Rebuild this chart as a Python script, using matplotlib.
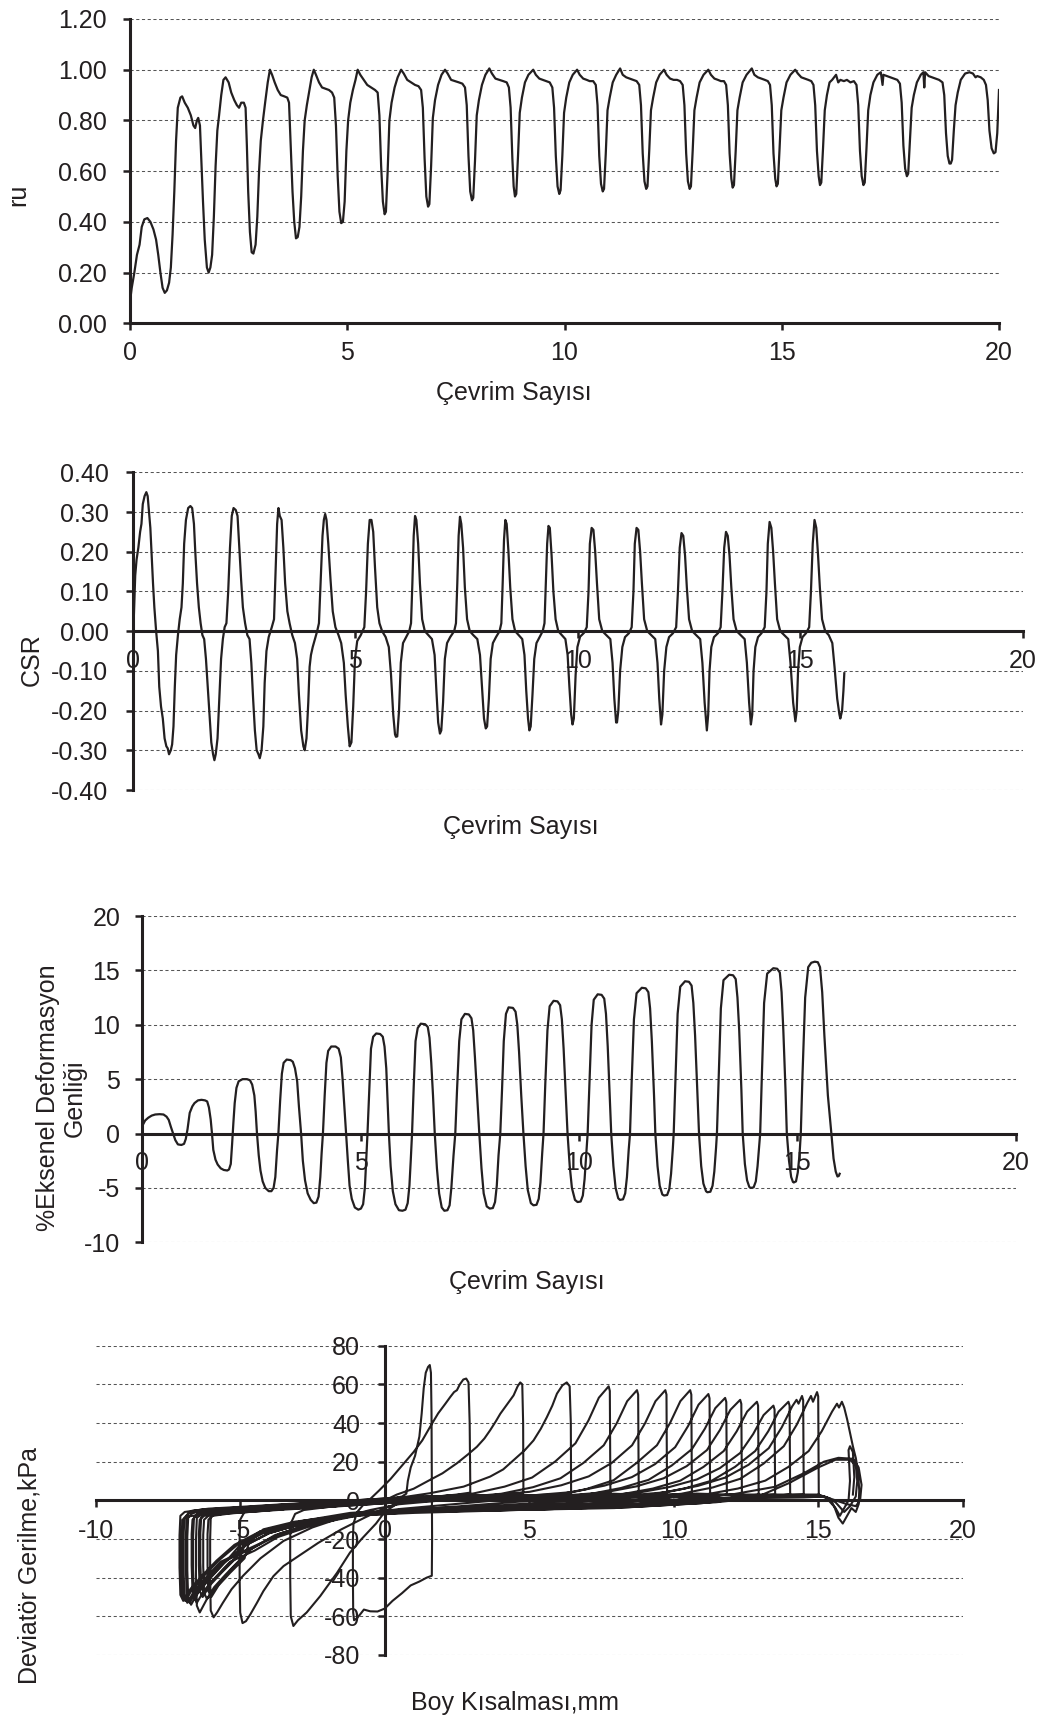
import matplotlib.pyplot as plt

plt.rcParams['font.family'] = ['Liberation Sans', 'DejaVu Sans']

FS = 18
INK = '#231f20'
GRID = '#555555'

# ---- panel 1: ru vs cycle number ----
ru_points = [
    (0.00, 0.085), (0.04, 0.14), (0.10, 0.20), (0.16, 0.27), (0.22, 0.31), (0.27, 0.38), (0.33, 0.41),
    (0.40, 0.415), (0.47, 0.40), (0.54, 0.37), (0.60, 0.33), (0.65, 0.27), (0.70, 0.20), (0.75, 0.14),
    (0.80, 0.12), (0.85, 0.13), (0.90, 0.16), (0.94, 0.22), (0.98, 0.35), (1.02, 0.52), (1.06, 0.72),
    (1.10, 0.85), (1.16, 0.89), (1.20, 0.895), (1.26, 0.87), (1.33, 0.85), (1.40, 0.82), (1.46, 0.78),
    (1.50, 0.77), (1.54, 0.80), (1.57, 0.81), (1.61, 0.78), (1.64, 0.65), (1.68, 0.48), (1.72, 0.33),
    (1.77, 0.22), (1.81, 0.20), (1.85, 0.22), (1.89, 0.27), (1.93, 0.42), (1.97, 0.62), (2.01, 0.76),
    (2.05, 0.82), (2.10, 0.90), (2.15, 0.96), (2.20, 0.97), (2.27, 0.95), (2.33, 0.91), (2.40, 0.88),
    (2.46, 0.86), (2.51, 0.85), (2.56, 0.87), (2.62, 0.87), (2.66, 0.85), (2.69, 0.70), (2.72, 0.52),
    (2.76, 0.36), (2.80, 0.28), (2.84, 0.275), (2.89, 0.31), (2.93, 0.42), (2.97, 0.60), (3.01, 0.72),
    (3.06, 0.80), (3.11, 0.87), (3.17, 0.95), (3.22, 1.00), (3.27, 0.98), (3.33, 0.95), (3.40, 0.92),
    (3.47, 0.90), (3.55, 0.895), (3.62, 0.89), (3.66, 0.87), (3.70, 0.70), (3.74, 0.52), (3.78, 0.40),
    (3.82, 0.335), (3.86, 0.34), (3.90, 0.38), (3.94, 0.50), (3.98, 0.68), (4.02, 0.80), (4.07, 0.86),
    (4.13, 0.92), (4.18, 0.97), (4.23, 1.00), (4.28, 0.98), (4.35, 0.95), (4.42, 0.93), (4.50, 0.925),
    (4.58, 0.92), (4.65, 0.91), (4.70, 0.89), (4.74, 0.78), (4.78, 0.58), (4.82, 0.44), (4.86, 0.395),
    (4.90, 0.40), (4.94, 0.48), (4.98, 0.68), (5.02, 0.80), (5.07, 0.87), (5.13, 0.92), (5.19, 0.96),
    (5.24, 1.00), (5.30, 0.98), (5.38, 0.96), (5.46, 0.94), (5.55, 0.93), (5.64, 0.92), (5.70, 0.91),
    (5.74, 0.82), (5.78, 0.62), (5.82, 0.48), (5.86, 0.43), (5.89, 0.44),
    (5.93, 0.60), (5.97, 0.80), (6.02, 0.87), (6.09, 0.93), (6.16, 0.97), (6.24, 1.00), (6.30, 0.985),
    (6.38, 0.96), (6.47, 0.95), (6.56, 0.94), (6.64, 0.935), (6.70, 0.92), (6.74, 0.85), (6.78, 0.65),
    (6.82, 0.50), (6.86, 0.46), (6.89, 0.47),
    (6.93, 0.62), (6.97, 0.81), (7.02, 0.88), (7.09, 0.94), (7.17, 0.98), (7.25, 1.00), (7.31, 0.985),
    (7.39, 0.96), (7.48, 0.955), (7.57, 0.95), (7.65, 0.945), (7.71, 0.93), (7.75, 0.86), (7.79, 0.66),
    (7.83, 0.52), (7.87, 0.485), (7.90, 0.495),
    (7.94, 0.64), (7.98, 0.82), (8.03, 0.88), (8.10, 0.94), (8.18, 0.98), (8.27, 1.005), (8.33, 0.985),
    (8.41, 0.965), (8.50, 0.96), (8.59, 0.955), (8.67, 0.95), (8.72, 0.93), (8.76, 0.85), (8.80, 0.65),
    (8.83, 0.54), (8.86, 0.50), (8.89, 0.51),
    (8.93, 0.66), (8.97, 0.83), (9.02, 0.89), (9.09, 0.95), (9.17, 0.98), (9.28, 1.00), (9.34, 0.98),
    (9.42, 0.965), (9.50, 0.96), (9.58, 0.955), (9.66, 0.95), (9.72, 0.93), (9.76, 0.85), (9.80, 0.66),
    (9.84, 0.54), (9.88, 0.51), (9.91, 0.525),
    (9.95, 0.66), (9.99, 0.83), (10.04, 0.89), (10.11, 0.95), (10.19, 0.98), (10.29, 1.00), (10.35, 0.98),
    (10.43, 0.965), (10.51, 0.96), (10.58, 0.955), (10.66, 0.955), (10.72, 0.94), (10.76, 0.86),
    (10.80, 0.66), (10.84, 0.55), (10.88, 0.52), (10.91, 0.53),
    (10.95, 0.67), (10.99, 0.84), (11.04, 0.89), (11.11, 0.95), (11.19, 0.98), (11.28, 1.005),
    (11.34, 0.98), (11.42, 0.97), (11.50, 0.965), (11.58, 0.96), (11.66, 0.955), (11.72, 0.94),
    (11.76, 0.86), (11.80, 0.67), (11.84, 0.56), (11.88, 0.53), (11.91, 0.54),
    (11.95, 0.68), (11.99, 0.84), (12.04, 0.89), (12.11, 0.95), (12.19, 0.98), (12.29, 1.00),
    (12.35, 0.98), (12.43, 0.965), (12.51, 0.96), (12.59, 0.96), (12.66, 0.955), (12.72, 0.94),
    (12.76, 0.86), (12.80, 0.67), (12.84, 0.56), (12.88, 0.53), (12.91, 0.54),
    (12.95, 0.68), (12.99, 0.84), (13.04, 0.89), (13.11, 0.95), (13.20, 0.98), (13.31, 1.00),
    (13.37, 0.98), (13.45, 0.965), (13.53, 0.96), (13.60, 0.955), (13.67, 0.955), (13.72, 0.94),
    (13.76, 0.86), (13.80, 0.67), (13.84, 0.57), (13.87, 0.535), (13.90, 0.545),
    (13.94, 0.68), (13.98, 0.84), (14.03, 0.89), (14.10, 0.95), (14.19, 0.98), (14.31, 1.005),
    (14.37, 0.98), (14.45, 0.97), (14.53, 0.965), (14.61, 0.96), (14.68, 0.955), (14.73, 0.94),
    (14.77, 0.86), (14.81, 0.67), (14.85, 0.57), (14.88, 0.54), (14.91, 0.55),
    (14.95, 0.69), (14.99, 0.84), (15.04, 0.89), (15.11, 0.95), (15.20, 0.98), (15.31, 1.00),
    (15.37, 0.985), (15.45, 0.97), (15.53, 0.965), (15.61, 0.96), (15.68, 0.955), (15.73, 0.94),
    (15.77, 0.86), (15.81, 0.68), (15.85, 0.58), (15.88, 0.545), (15.91, 0.555),
    (15.95, 0.69), (15.99, 0.84), (16.04, 0.90), (16.10, 0.95), (16.16, 0.96), (16.25, 0.98),
    (16.30, 0.95), (16.35, 0.96), (16.43, 0.955), (16.50, 0.96), (16.58, 0.95), (16.66, 0.955),
    (16.72, 0.94), (16.76, 0.86), (16.80, 0.68), (16.84, 0.58), (16.88, 0.545), (16.91, 0.555),
    (16.95, 0.69), (16.99, 0.84), (17.04, 0.90), (17.11, 0.95), (17.20, 0.98), (17.28, 0.99),
    (17.32, 0.94), (17.34, 0.98), (17.42, 0.975), (17.50, 0.97), (17.58, 0.965), (17.66, 0.96),
    (17.72, 0.945), (17.76, 0.87), (17.80, 0.70), (17.84, 0.61), (17.88, 0.58), (17.91, 0.59),
    (17.95, 0.72), (17.99, 0.85), (18.04, 0.90), (18.11, 0.95), (18.20, 0.98), (18.26, 0.99),
    (18.28, 0.93), (18.30, 0.99), (18.38, 0.975), (18.46, 0.97), (18.54, 0.965), (18.62, 0.96),
    (18.70, 0.95), (18.74, 0.90), (18.78, 0.75), (18.82, 0.66), (18.86, 0.63), (18.89, 0.63),
    (18.92, 0.645), (18.96, 0.76), (19.00, 0.86), (19.05, 0.91), (19.12, 0.96), (19.22, 0.985),
    (19.32, 0.99), (19.40, 0.985), (19.46, 0.97), (19.50, 0.975), (19.58, 0.97), (19.65, 0.96),
    (19.70, 0.94), (19.74, 0.88), (19.78, 0.76), (19.83, 0.69), (19.88, 0.67), (19.92, 0.675),
    (19.96, 0.75), (20.00, 0.92),
]
ru_ticks = [0.0, 0.2, 0.4, 0.6, 0.8, 1.0, 1.2]
ru_labels = ['0.00', '0.20', '0.40', '0.60', '0.80', '1.00', '1.20']

# ---- panel 2: CSR vs cycle number ----
csr_points = [
    (0.00, 0.00), (0.02, 0.04), (0.05, 0.14), (0.08, 0.18), (0.12, 0.21), (0.16, 0.25), (0.19, 0.27),
    (0.22, 0.32), (0.26, 0.34), (0.30, 0.35), (0.33, 0.34), (0.36, 0.30), (0.39, 0.26), (0.42, 0.19),
    (0.45, 0.12), (0.48, 0.06), (0.52, 0.00), (0.56, -0.05), (0.59, -0.14), (0.63, -0.19), (0.67, -0.22),
    (0.71, -0.27), (0.75, -0.29), (0.78, -0.295), (0.81, -0.31), (0.85, -0.30), (0.88, -0.285),
    (0.91, -0.24), (0.94, -0.14), (0.97, -0.06), (1.01, -0.01), (1.05, 0.03), (1.09, 0.06), (1.12, 0.12),
    (1.15, 0.22), (1.19, 0.28), (1.24, 0.31), (1.29, 0.315), (1.33, 0.31), (1.37, 0.27), (1.40, 0.20),
    (1.44, 0.12), (1.48, 0.06), (1.52, 0.02), (1.56, -0.01), (1.60, -0.02), (1.64, -0.07), (1.68, -0.14),
    (1.72, -0.21), (1.76, -0.28), (1.80, -0.31), (1.83, -0.325), (1.86, -0.31), (1.90, -0.27),
    (1.94, -0.17), (1.98, -0.07), (2.02, -0.02), (2.06, 0.01), (2.10, 0.02), (2.14, 0.10), (2.18, 0.21),
    (2.22, 0.29), (2.26, 0.31), (2.31, 0.305), (2.35, 0.29), (2.39, 0.21), (2.43, 0.13), (2.47, 0.06),
    (2.52, 0.02), (2.57, -0.01), (2.62, -0.02), (2.66, -0.08), (2.70, -0.17), (2.74, -0.25), (2.78, -0.30),
    (2.82, -0.31), (2.85, -0.32), (2.89, -0.30), (2.93, -0.24), (2.96, -0.13), (3.00, -0.05),
    (3.05, -0.015), (3.12, 0.01), (3.17, 0.03), (3.21, 0.17), (3.24, 0.27), (3.27, 0.31), (3.30, 0.29),
    (3.34, 0.28), (3.38, 0.21), (3.42, 0.12), (3.47, 0.05), (3.52, 0.02), (3.58, -0.01), (3.64, -0.03),
    (3.69, -0.07), (3.73, -0.16), (3.78, -0.25), (3.83, -0.29), (3.86, -0.30), (3.90, -0.27),
    (3.94, -0.18), (3.97, -0.09), (4.00, -0.06), (4.04, -0.04), (4.09, -0.02), (4.14, 0.0), (4.18, 0.02),
    (4.22, 0.13), (4.26, 0.24), (4.29, 0.28), (4.32, 0.295), (4.35, 0.28), (4.39, 0.22), (4.44, 0.13),
    (4.49, 0.05), (4.55, 0.01), (4.62, -0.01), (4.68, -0.03), (4.74, -0.08), (4.78, -0.16), (4.83, -0.24),
    (4.87, -0.29), (4.91, -0.28), (4.95, -0.19), (4.99, -0.07), (5.04, -0.025), (5.12, -0.01),
    (5.20, 0.01), (5.24, 0.10), (5.28, 0.22), (5.32, 0.28), (5.36, 0.28), (5.40, 0.25), (5.44, 0.16),
    (5.49, 0.06), (5.54, 0.02), (5.60, 0.0), (5.68, -0.015), (5.75, -0.04), (5.80, -0.11), (5.85, -0.21),
    (5.89, -0.26), (5.91, -0.266),
    (5.94, -0.265), (5.98, -0.20), (6.02, -0.08), (6.07, -0.03), (6.14, -0.015), (6.21, 0.0), (6.25, 0.02),
    (6.28, 0.12), (6.31, 0.24), (6.34, 0.29), (6.37, 0.28), (6.41, 0.22), (6.45, 0.12), (6.50, 0.03),
    (6.56, 0.0), (6.64, -0.01), (6.72, -0.02), (6.78, -0.06), (6.82, -0.15), (6.86, -0.23), (6.90, -0.258),
    (6.93, -0.25), (6.97, -0.18), (7.01, -0.07), (7.06, -0.03), (7.13, -0.015), (7.22, 0.0), (7.26, 0.02),
    (7.29, 0.12), (7.32, 0.24), (7.35, 0.288), (7.38, 0.27), (7.42, 0.21), (7.46, 0.11), (7.51, 0.03),
    (7.57, 0.0), (7.65, -0.01), (7.74, -0.02), (7.80, -0.06), (7.85, -0.15), (7.89, -0.22), (7.93, -0.245),
    (7.96, -0.24), (8.00, -0.17), (8.04, -0.07), (8.09, -0.03), (8.16, -0.015), (8.24, 0.0), (8.28, 0.02),
    (8.31, 0.12), (8.34, 0.23), (8.37, 0.28), (8.40, 0.27), (8.44, 0.20), (8.48, 0.11), (8.53, 0.03),
    (8.59, 0.0), (8.67, -0.01), (8.75, -0.02), (8.80, -0.06), (8.84, -0.15), (8.88, -0.22), (8.91, -0.25),
    (8.94, -0.24), (8.98, -0.16), (9.02, -0.07), (9.07, -0.03), (9.14, -0.015), (9.21, 0.0), (9.25, 0.02),
    (9.28, 0.12), (9.31, 0.22), (9.34, 0.265), (9.37, 0.26), (9.41, 0.19), (9.45, 0.10), (9.50, 0.03),
    (9.56, 0.0), (9.64, -0.01), (9.72, -0.02), (9.77, -0.06), (9.81, -0.14), (9.85, -0.21), (9.88, -0.235),
    (9.91, -0.22), (9.95, -0.11), (9.99, -0.04), (10.05, -0.014), (10.14, -0.004), (10.20, 0.01),
    (10.24, 0.10), (10.27, 0.22), (10.31, 0.26), (10.35, 0.255), (10.39, 0.20), (10.43, 0.12),
    (10.48, 0.03), (10.55, 0.0), (10.64, -0.01), (10.73, -0.02), (10.78, -0.08), (10.82, -0.17),
    (10.86, -0.23), (10.88, -0.23),
    (10.91, -0.20), (10.95, -0.10), (11.00, -0.04), (11.06, -0.015), (11.15, -0.005), (11.21, 0.01),
    (11.25, 0.10), (11.28, 0.22), (11.32, 0.26), (11.36, 0.255), (11.40, 0.20), (11.44, 0.12),
    (11.49, 0.03), (11.56, 0.0), (11.65, -0.01), (11.74, -0.02), (11.79, -0.08), (11.83, -0.17),
    (11.87, -0.235),
    (11.90, -0.21), (11.94, -0.10), (11.99, -0.04), (12.05, -0.015), (12.14, -0.005), (12.21, 0.01),
    (12.25, 0.10), (12.29, 0.21), (12.33, 0.247), (12.37, 0.24), (12.41, 0.19), (12.45, 0.11),
    (12.50, 0.03), (12.57, 0.0), (12.66, -0.01), (12.75, -0.02), (12.80, -0.08), (12.85, -0.18),
    (12.90, -0.25),
    (12.93, -0.21), (12.96, -0.10), (13.00, -0.04), (13.06, -0.015), (13.15, -0.005), (13.21, 0.01),
    (13.25, 0.10), (13.29, 0.21), (13.33, 0.25), (13.37, 0.24), (13.41, 0.19), (13.45, 0.11),
    (13.50, 0.03), (13.57, 0.0), (13.66, -0.01), (13.75, -0.02), (13.80, -0.08), (13.85, -0.18),
    (13.89, -0.235),
    (13.92, -0.21), (13.95, -0.10), (13.99, -0.04), (14.05, -0.015), (14.13, -0.005), (14.20, 0.01),
    (14.24, 0.10), (14.27, 0.22), (14.31, 0.275), (14.35, 0.26), (14.39, 0.20), (14.43, 0.12),
    (14.48, 0.03), (14.55, 0.0), (14.64, -0.01), (14.73, -0.02), (14.78, -0.08), (14.84, -0.18),
    (14.89, -0.227),
    (14.92, -0.20), (14.95, -0.10), (14.99, -0.04), (15.05, -0.015), (15.13, -0.005), (15.20, 0.01),
    (15.24, 0.10), (15.28, 0.22), (15.32, 0.28), (15.36, 0.26), (15.40, 0.19), (15.44, 0.11),
    (15.49, 0.03), (15.56, 0.0), (15.64, -0.01), (15.72, -0.03), (15.77, -0.09), (15.83, -0.17),
    (15.88, -0.21), (15.90, -0.22), (15.94, -0.20), (15.97, -0.15), (15.99, -0.106),
]
csr_ticks = [-0.4, -0.3, -0.2, -0.1, 0.0, 0.1, 0.2, 0.3, 0.4]
csr_labels = ['-0.40', '-0.30', '-0.20', '-0.10', '0.00', '0.10', '0.20', '0.30', '0.40']

# ---- panel 3: axial strain amplitude (%) vs cycle number ----
strain_points = [
    (0.00, 0.67), (0.07, 1.2), (0.14, 1.45), (0.22, 1.65), (0.30, 1.75), (0.40, 1.78), (0.49, 1.75),
    (0.56, 1.55), (0.61, 1.25), (0.66, 0.6), (0.71, 0.0), (0.76, -0.6), (0.82, -1.0), (0.90, -1.05),
    (0.96, -0.95), (1.00, -0.5), (1.04, 0.4), (1.09, 1.9), (1.15, 2.5), (1.20, 2.8), (1.28, 3.05),
    (1.36, 3.1), (1.44, 3.05), (1.49, 2.95), (1.53, 2.4), (1.57, 1.3), (1.60, 0.0), (1.63, -1.5),
    (1.68, -2.4), (1.73, -2.85), (1.80, -3.2), (1.87, -3.35), (1.95, -3.4), (1.99, -3.3), (2.03, -2.8),
    (2.06, -1.0), (2.09, 1.0), (2.12, 2.8), (2.16, 4.2), (2.21, 4.8), (2.30, 5.0), (2.40, 5.0),
    (2.47, 4.9), (2.52, 4.5), (2.57, 3.5), (2.60, 2.0), (2.63, 0.0), (2.67, -2.0), (2.71, -3.4),
    (2.76, -4.4), (2.82, -5.0), (2.90, -5.3), (2.96, -5.3), (3.01, -5.0), (3.05, -4.0), (3.09, -1.5),
    (3.12, 0.0), (3.16, 3.0), (3.20, 5.5), (3.24, 6.5), (3.31, 6.8), (3.40, 6.75), (3.45, 6.6),
    (3.50, 6.0), (3.55, 4.8), (3.59, 2.5), (3.64, 0.0), (3.68, -2.5), (3.73, -4.3), (3.79, -5.5),
    (3.86, -6.1), (3.93, -6.4), (3.99, -6.35), (4.04, -5.8), (4.08, -4.0), (4.11, -1.8), (4.14, 0.0),
    (4.18, 3.5), (4.22, 6.5), (4.26, 7.6), (4.33, 8.0), (4.43, 8.0), (4.50, 7.8), (4.55, 7.0),
    (4.59, 5.0), (4.63, 2.5), (4.67, 0.0), (4.71, -2.5), (4.75, -4.8), (4.80, -6.0), (4.87, -6.8),
    (4.95, -7.0), (5.01, -6.9), (5.06, -6.5), (5.10, -5.0), (5.13, -2.5), (5.16, 0.0), (5.20, 4.0),
    (5.24, 7.8), (5.29, 8.9), (5.36, 9.2), (5.45, 9.15), (5.51, 8.9), (5.55, 8.0), (5.59, 6.0),
    (5.62, 3.0), (5.65, 0.0), (5.69, -3.0), (5.74, -5.3), (5.80, -6.5), (5.88, -7.05), (5.96, -7.1),
    (6.03, -7.0), (6.08, -6.4), (6.12, -4.8), (6.15, -2.5), (6.18, 0.0), (6.22, 4.5), (6.26, 8.5),
    (6.31, 9.7), (6.38, 10.1), (6.48, 10.05), (6.54, 9.8), (6.58, 8.8), (6.62, 6.5), (6.66, 3.5),
    (6.70, 0.0), (6.75, -3.2), (6.80, -5.5), (6.86, -6.8), (6.92, -7.1), (6.99, -7.05), (7.04, -6.6),
    (7.08, -5.0), (7.13, -2.0), (7.17, 0.0), (7.21, 4.0), (7.26, 8.5), (7.31, 10.5), (7.39, 11.0),
    (7.48, 10.95), (7.54, 10.6), (7.58, 9.5), (7.62, 7.0), (7.67, 3.5), (7.72, 0.0), (7.77, -3.2),
    (7.82, -5.5), (7.89, -6.7), (7.96, -6.9), (8.03, -6.85), (8.08, -6.3), (8.12, -4.8), (8.16, -2.0),
    (8.20, 0.0), (8.24, 4.0), (8.28, 8.5), (8.33, 11.0), (8.39, 11.6), (8.49, 11.55), (8.55, 11.2),
    (8.59, 10.0), (8.63, 7.5), (8.68, 3.5), (8.73, 0.0), (8.78, -3.0), (8.83, -5.2), (8.90, -6.4),
    (8.96, -6.6), (9.03, -6.55), (9.08, -6.0), (9.12, -4.5), (9.16, -1.8), (9.19, 0.0), (9.23, 4.5),
    (9.28, 9.5), (9.33, 11.7), (9.42, 12.2), (9.51, 12.15), (9.57, 11.8), (9.61, 10.5), (9.65, 7.8),
    (9.70, 3.5), (9.74, 0.0), (9.79, -3.0), (9.84, -5.0), (9.91, -6.1), (9.97, -6.3), (10.04, -6.25),
    (10.09, -5.7), (10.13, -4.2), (10.17, -1.8), (10.20, 0.0), (10.24, 4.5), (10.29, 10.0),
    (10.34, 12.3), (10.43, 12.8), (10.52, 12.75), (10.58, 12.4), (10.62, 11.0), (10.66, 8.0),
    (10.71, 3.0), (10.74, 0.0), (10.79, -3.0), (10.84, -5.0), (10.90, -5.95), (10.94, -6.1),
    (11.01, -6.05), (11.06, -5.5), (11.10, -4.0), (11.14, -1.5), (11.17, 0.0), (11.21, 5.0),
    (11.26, 10.5), (11.32, 12.9), (11.44, 13.4), (11.53, 13.35), (11.59, 13.0), (11.63, 11.5),
    (11.67, 8.5), (11.72, 3.5), (11.75, 0.0), (11.80, -3.0), (11.85, -4.8), (11.91, -5.6),
    (11.95, -5.7), (12.02, -5.65), (12.07, -5.1), (12.11, -3.7), (12.15, -1.4), (12.17, 0.0),
    (12.21, 5.0), (12.26, 11.0), (12.32, 13.5), (12.43, 14.0), (12.52, 13.95), (12.58, 13.6),
    (12.62, 12.0), (12.66, 9.0), (12.71, 4.0), (12.75, 0.0), (12.80, -3.0), (12.85, -4.6),
    (12.91, -5.3), (12.94, -5.4), (13.01, -5.35), (13.06, -4.8), (13.10, -3.5), (13.14, -1.3),
    (13.16, 0.0), (13.20, 5.0), (13.25, 11.5), (13.31, 14.1), (13.44, 14.6), (13.53, 14.55),
    (13.59, 14.2), (13.63, 12.5), (13.67, 9.5), (13.72, 4.0), (13.75, 0.0), (13.80, -2.8),
    (13.85, -4.3), (13.90, -4.9), (13.93, -5.0), (14.00, -4.95), (14.05, -4.4), (14.09, -3.0),
    (14.13, -1.0), (14.15, 0.0), (14.19, 5.5), (14.24, 12.0), (14.31, 14.7), (14.45, 15.2),
    (14.54, 15.15), (14.60, 14.8), (14.64, 13.0), (14.68, 9.5), (14.73, 4.0), (14.76, 0.0),
    (14.81, -2.5), (14.86, -4.0), (14.90, -4.45), (14.92, -4.5), (14.97, -4.4), (15.01, -3.6),
    (15.05, -2.0), (15.08, 0.0), (15.12, 5.5), (15.18, 12.5), (15.25, 15.3), (15.32, 15.7),
    (15.40, 15.8), (15.47, 15.75), (15.52, 15.3), (15.57, 13.0), (15.62, 9.0), (15.70, 3.5),
    (15.78, 0.0), (15.83, -2.3), (15.88, -3.5), (15.92, -3.95), (15.95, -3.9), (15.97, -3.7),
]
strain_ticks = [-10, -5, 0, 5, 10, 15, 20]
strain_labels = ['-10', '-5', '0', '5', '10', '15', '20']

# ---- panel 4: deviator stress (kPa) vs axial shortening (mm) ----
hyst_points = [
    # first loading and first loop
    (0.0, 0.0), (0.3, 1.0), (0.6, 2.0), (0.75, 3.5), (0.80, 10), (0.90, 17), (1.05, 23), (1.20, 33),
    (1.28, 45), (1.35, 58), (1.42, 66), (1.50, 69), (1.56, 70), (1.60, 66), (1.62, 45), (1.63, 10),
    (1.64, -20), (1.63, -39), (1.45, -40), (1.20, -42), (0.90, -44), (0.60, -48), (0.27, -52),
    (0.00, -56), (-0.25, -57.5), (-0.50, -57.4), (-0.72, -56.5), (-0.85, -59), (-0.96, -61),
    (-1.06, -62), (-1.09, -58), (-1.10, -40), (-1.10, -20), (-1.08, -12), (-0.95, -6), (-0.75, -2.5),
    (-0.55, 0),
    # loop 2
    (-0.2, 5), (0.2, 11), (0.6, 18), (1.0, 25), (1.3, 31), (1.57, 38), (1.85, 45), (2.1, 50),
    (2.27, 53.5), (2.4, 56), (2.5, 57), (2.6, 60), (2.72, 62.5), (2.82, 63), (2.9, 61), (2.94, 40),
    (2.96, 10), (2.96, 4), (2.5, 3), (1.5, 1.5), (0.5, -1), (0.0, -6), (-0.3, -12), (-0.8, -20),
    (-1.2, -27), (-1.65, -37.5), (-2.23, -49.5), (-2.7, -58), (-3.0, -62), (-3.16, -65), (-3.25, -60),
    (-3.27, -40), (-3.27, -20), (-3.25, -12), (-3.1, -7), (-2.8, -5), (-2.0, -3.5), (-1.0, -2),
    (0.0, 0),
    # loop 3
    (0.42, 3), (1.0, 6), (1.57, 10.6), (2.0, 14), (2.5, 19.2), (2.9, 24), (3.19, 27.7), (3.45, 32),
    (3.65, 36.3), (3.85, 41), (4.0, 44.8), (4.25, 50), (4.46, 54.3), (4.6, 59), (4.69, 61), (4.76, 60),
    (4.79, 40), (4.80, 10), (4.80, 4), (4.3, 3), (3.0, 2), (1.5, 0.5), (0.5, -1.5), (0.0, -4),
    (-0.7, -9), (-1.5, -15), (-2.3, -22), (-3.0, -29), (-3.5, -34), (-3.85, -39.2), (-4.2, -47),
    (-4.42, -53), (-4.65, -59), (-4.8, -62.5), (-4.92, -63.5), (-5.0, -58), (-5.02, -40), (-5.02, -20),
    (-5.0, -10), (-4.85, -6), (-4.4, -4.5), (-3.5, -3.5), (-2.0, -2.2), (-0.8, -1), (0.4, 1.1),
    # loop 4
    (1.57, 3.7), (2.73, 7.1), (3.65, 12.3), (4.1, 16), (4.46, 20.8), (4.85, 26), (5.15, 31), (5.4, 37),
    (5.61, 43), (5.8, 49), (5.96, 55.2), (6.15, 59.5), (6.30, 61), (6.40, 59), (6.44, 40), (6.45, 10),
    (6.45, 3), (5.5, 2.5), (4.0, 1.5), (2.0, 0), (0.5, -2), (-0.5, -5), (-1.5, -9), (-2.5, -14),
    (-3.5, -21), (-4.3, -30), (-4.9, -39), (-5.3, -46), (-5.6, -53), (-5.8, -58), (-5.92, -60.5),
    (-6.02, -57), (-6.04, -40), (-6.04, -20), (-6.02, -9), (-5.9, -6.5), (-5.4, -5), (-4.5, -4),
    (-3.0, -2.8), (-1.5, -1.5), (0.0, 0.3),
    # loop 5
    (1.75, 1.8), (3.05, 3.5), (4.15, 7.1), (5.10, 11.8), (5.90, 20.1), (6.60, 29.5), (7.05, 41.3),
    (7.41, 53.1), (7.75, 59), (7.79, 56.6), (7.80, 29.5), (7.81, 3), (6.75, 2.5), (4.25, 0.5),
    (2.0, -2.5), (0.5, -4.5), (-1.0, -7.5), (-2.5, -12), (-3.8, -18), (-4.6, -25), (-5.25, -34.8),
    (-5.75, -43.5), (-6.15, -51), (-6.40, -58), (-6.50, -54.5), (-6.53, -38.9), (-6.53, -20.3),
    (-6.50, -9), (-6.35, -7.5), (-5.75, -6.5), (-4.8, -5.5), (-3.5, -4), (-2.0, -2.5), (-0.5, -1),
    (1.0, 0.5),
    # loop 6
    (2.73, 1.7), (4.03, 3.4), (5.13, 6.8), (6.08, 11.4), (6.88, 19.4), (7.58, 28.5), (8.03, 39.9),
    (8.39, 51.3), (8.73, 57), (8.77, 54.7), (8.78, 28.5), (8.79, 3), (7.73, 3.5), (5.23, 0.0),
    (2.23, -3.5), (1.0, -5), (-1.0, -7), (-2.6, -11), (-4.0, -17), (-4.9, -24), (-5.55, -32.4),
    (-6.05, -40.5), (-6.45, -47.5), (-6.70, -54), (-6.80, -50.8), (-6.83, -36.2), (-6.83, -18.9),
    (-6.80, -9), (-6.65, -6.5), (-6.05, -5.0), (-4.8, -3.8), (-3.5, -2.5), (-2.0, -1.2), (-0.5, 0.0),
    (1.0, 1.5), (2.3, 2.5),
    # loop 7
    (3.71, 2.7), (5.01, 4.4), (6.11, 7.8), (7.06, 12.4), (7.86, 19.4), (8.56, 28.5), (9.01, 39.9),
    (9.37, 51.3), (9.71, 57), (9.75, 54.7), (9.76, 28.5), (9.77, 3), (8.71, 2.0), (6.21, -1.5),
    (3.21, -4), (1.0, -5.5), (-0.8, -7), (-2.4, -10), (-4.1, -15), (-5.1, -23), (-5.75, -31.2),
    (-6.25, -39), (-6.65, -45.8), (-6.90, -52), (-7.00, -48.9), (-7.03, -34.8), (-7.03, -18.2),
    (-7.00, -10), (-6.85, -8.5), (-6.25, -7.0), (-4.8, -5.8), (-3.5, -4.5), (-2.0, -3), (-0.5, -1.5),
    (1.0, 0), (3.0, 1.0),
    # loop 8
    (4.57, 1.2), (5.87, 2.6), (6.97, 5.8), (7.92, 10.4), (8.72, 19.4), (9.42, 28.5), (9.87, 39.9),
    (10.23, 51.3), (10.57, 57), (10.61, 54.7), (10.62, 28.5), (10.63, 3), (9.57, 3.0), (7.07, 0.5),
    (4.07, -2.5), (1.0, -4.5), (-1.2, -6.5), (-2.8, -10.5), (-4.3, -16), (-5.2, -23), (-5.82, -31.2),
    (-6.32, -39), (-6.72, -45.8), (-6.97, -52), (-7.07, -48.9), (-7.10, -34.8), (-7.10, -18.2),
    (-7.07, -8), (-6.92, -6.0), (-6.32, -4.8), (-4.8, -3.5), (-3.5, -2.2), (-2.0, -1.0), (-0.5, 0.5),
    (1.0, 1.8), (3.5, 2.5),
    # loop 9
    (5.20, 2.7), (6.50, 4.3), (7.60, 7.6), (8.55, 12), (9.35, 18.7), (10.05, 27.5), (10.50, 38.5),
    (10.86, 49.5), (11.20, 55), (11.24, 52.8), (11.25, 27.5), (11.26, 3), (10.2, 2.0), (7.7, -2.0),
    (4.7, -4.5), (1.0, -6), (-1.0, -8), (-2.7, -12), (-4.2, -17), (-5.0, -23), (-5.40, -30),
    (-5.90, -37.5), (-6.30, -44), (-6.55, -50), (-6.65, -47), (-6.68, -33.5), (-6.68, -17.5),
    (-6.65, -10), (-6.50, -7.5), (-5.90, -6.3), (-4.8, -5.2), (-3.5, -4), (-2.0, -2.8), (-0.5, -1.5),
    (1.0, -0.2), (4.0, 0.8),
    # loop 10
    (5.78, 1.6), (7.08, 3.2), (8.18, 6.4), (9.13, 10.6), (9.93, 18), (10.63, 26.5), (11.08, 37.1),
    (11.44, 47.7), (11.78, 53), (11.82, 50.9), (11.83, 26.5), (11.84, 3), (10.78, 3.5), (8.28, -0.5),
    (5.28, -3), (1.0, -5), (-0.9, -7), (-2.3, -11.5), (-3.7, -18), (-4.7, -25), (-5.68, -31.8),
    (-6.18, -39.8), (-6.58, -46.6), (-6.83, -53), (-6.93, -49.8), (-6.96, -35.5), (-6.96, -18.6),
    (-6.93, -9), (-6.78, -6.5), (-6.18, -5.3), (-4.8, -4.2), (-3.5, -3), (-2.0, -1.8), (-0.5, -0.5),
    (1.0, 1.0), (4.5, 2.0),
    # loop 11
    (6.30, 2.6), (7.60, 4.1), (8.70, 7.2), (9.65, 11.4), (10.45, 17.7), (11.15, 26), (11.60, 36.4),
    (11.96, 46.8), (12.30, 52), (12.34, 49.9), (12.35, 26), (12.36, 3), (11.3, 2.5), (8.8, -2.5),
    (5.8, -4.5), (1.0, -6), (-1.1, -7.5), (-2.9, -11), (-4.3, -16), (-5.0, -23), (-5.15, -30),
    (-5.65, -37.5), (-6.05, -44), (-6.30, -50), (-6.40, -47), (-6.43, -33.5), (-6.43, -17.5),
    (-6.40, -10), (-6.25, -8), (-5.65, -6.8), (-4.8, -5.8), (-3.5, -4.5), (-2.0, -3.2), (-0.5, -2.0),
    (1.0, -0.5), (5.0, 1.0),
    # loop 12
    (6.88, 1.5), (8.18, 3.1), (9.28, 6.1), (10.23, 10.2), (11.03, 17.3), (11.73, 25.5), (12.18, 35.7),
    (12.54, 45.9), (12.88, 51), (12.92, 49), (12.93, 25.5), (12.94, 3), (11.88, 3.0), (9.38, -1.0),
    (6.38, -3.5), (1.0, -5.5), (-0.7, -6.5), (-2.2, -10.5), (-3.6, -17), (-4.6, -25), (-5.60, -31.8),
    (-6.10, -39.8), (-6.50, -46.6), (-6.75, -53), (-6.85, -49.8), (-6.88, -35.5), (-6.88, -18.6),
    (-6.85, -8), (-6.70, -5.5), (-6.10, -4.3), (-4.8, -3.2), (-3.5, -2), (-2.0, -0.8), (-0.5, 0.5),
    (1.0, 1.8), (5.5, 2.8),
    # loop 13
    (7.45, 2.5), (8.75, 3.9), (9.85, 6.9), (10.80, 10.8), (11.60, 16.7), (12.30, 24.5), (12.75, 34.3),
    (13.11, 44.1), (13.45, 49), (13.49, 47), (13.50, 24.5), (13.51, 3), (12.45, 2.0), (9.95, -2.0),
    (6.95, -4), (1.0, -6.5), (-1.3, -8), (-3.0, -12), (-4.3, -17), (-4.9, -23), (-5.00, -30.6),
    (-5.50, -38.3), (-5.90, -44.9), (-6.15, -51), (-6.25, -47.9), (-6.28, -34.2), (-6.28, -17.9),
    (-6.25, -10), (-6.10, -8), (-5.50, -6.8), (-4.5, -5.8), (-3.5, -4.8), (-2.0, -3.5), (-0.5, -2),
    (1.0, -0.5), (6.0, 0.8),
    # loop 14
    (7.97, 1.5), (9.27, 3.1), (10.37, 6.1), (11.32, 10.2), (12.12, 17.3), (12.82, 25.5), (13.27, 35.7),
    (13.63, 45.9), (13.97, 51), (14.01, 49), (14.02, 25.5), (14.03, 3), (12.97, 3.0), (10.47, -0.5),
    (7.47, -3), (1.0, -5), (-0.8, -7.5), (-2.3, -12), (-3.7, -19), (-4.5, -26), (-5.35, -31.8),
    (-5.85, -39.8), (-6.25, -46.6), (-6.50, -53), (-6.60, -49.8), (-6.63, -35.5), (-6.63, -18.6),
    (-6.60, -9), (-6.45, -6.5), (-5.85, -5.3), (-4.8, -4.2), (-3.5, -3), (-2.0, -1.8), (-0.5, -0.5),
    (1.0, 0.8), (6.5, 1.5),
    # loop 15
    (8.44, 2.6), (9.74, 4.2), (10.84, 7.5), (11.79, 11.8), (12.59, 18.4), (13.29, 27), (13.74, 37.8),
    (14.10, 48.6), (14.25, 52), (14.32, 50), (14.44, 54), (14.48, 51.8), (14.49, 27), (14.50, 3),
    (13.44, 2.5), (10.94, -1.5), (7.94, -4), (1.0, -6), (-1.2, -7.5), (-3.1, -11), (-4.2, -15),
    (-4.7, -22), (-4.85, -30), (-5.35, -37.5), (-5.75, -44), (-6.00, -50), (-6.10, -47), (-6.13, -33.5),
    (-6.13, -17.5), (-6.10, -10), (-5.95, -8), (-5.35, -6.8), (-4.5, -5.8), (-3.5, -4.5), (-2.0, -3),
    (-0.5, -1.8), (1.0, -0.3), (7.0, 1.0),
    # loop 16
    (8.96, 1.7), (10.26, 3.4), (11.36, 6.7), (12.31, 11.2), (13.11, 19), (13.81, 28), (14.26, 39.2),
    (14.62, 50.4), (14.75, 54), (14.82, 51), (14.96, 56), (15.00, 53.8), (15.01, 28), (15.02, 3),
    (13.96, 3.0), (11.46, -1.0), (8.46, -3.5), (1.0, -5.5), (-1.0, -7), (-2.6, -11), (-4.0, -17),
    (-4.8, -23), (-5.10, -28.8), (-5.60, -36), (-6.00, -42.2), (-6.25, -48), (-6.35, -45.1),
    (-6.38, -32.2), (-6.38, -16.8), (-6.35, -9), (-6.20, -6.5), (-5.60, -5.3), (-4.8, -4.2), (-3.5, -3),
    (-2.0, -1.8), (-0.5, -0.5), (1.0, 0.8), (7.5, 1.5),
    # last loop and the end of the test
    (9.82, 1.5), (11.12, 3.1), (12.22, 6.1), (13.17, 10.2), (13.97, 17.3), (14.67, 25.5), (15.12, 35.7),
    (15.48, 45.9), (15.65, 50), (15.72, 48), (15.82, 51), (15.90, 48), (16.00, 42), (16.10, 35),
    (16.20, 28), (16.30, 22), (16.38, 15), (16.42, 5), (16.40, -2), (16.30, -6), (16.15, -4),
    (16.00, -8), (15.85, -12), (15.70, -9), (15.55, -3), (15.40, 1), (15.20, 2), (14.50, 1.5),
    (12.00, 1.0), (10.00, 1.5), (12.0, 3), (13.5, 7), (14.5, 14), (15.2, 20), (15.7, 22), (16.2, 21.5),
    (16.4, 17), (16.5, 8), (16.45, 0), (16.3, -3), (16.0, -2), (15.6, 0), (15.2, 2), (13.0, 2.5),
    (14.0, 9), (15.0, 17), (15.6, 21), (16.1, 21), (16.3, 18), (16.35, 10), (16.3, 2), (16.1, -3),
    (15.9, -6), (15.6, -1), (15.3, 1.5), (15.0, 3), (15.3, 1), (15.6, -4), (15.75, -8), (15.9, -4),
    (16.05, 0), (16.1, 10), (16.05, 26), (16.1, 28), (16.2, 25), (16.25, 12), (16.2, 3),
]
q_ticks = [-80, -60, -40, -20, 0, 20, 40, 60, 80]
q_labels = ['-80', '-60', '-40', '-20', '0', '20', '40', '60', '80']
mm_ticks = [-10, -5, 0, 5, 10, 15, 20]
mm_labels = ['-10', '-5', '0', '5', '10', '15', '20']
cycle_ticks = [0, 5, 10, 15, 20]
cycle_labels = ['0', '5', '10', '15', '20']

W, H = 1042, 1722
fig = plt.figure(figsize=(W / 100, H / 100), dpi=100)


def box(x0, y0, x1, y1):
    return [x0 / W, 1 - y1 / H, (x1 - x0) / W, (y1 - y0) / H]


def style(ax, ypad, xpad):
    for s in ('top', 'right'):
        ax.spines[s].set_visible(False)
    for s in ('left', 'bottom'):
        ax.spines[s].set_linewidth(2.2)
        ax.spines[s].set_color(INK)
    ax.tick_params(direction='out', length=4.7, width=1.8, color=INK,
                   labelsize=FS, labelcolor=INK)
    ax.tick_params(axis='y', pad=ypad)
    ax.tick_params(axis='x', pad=xpad)
    ax.yaxis.grid(True, linestyle=(0, (3, 2.5)), color=GRID, linewidth=0.75)
    ax.set_axisbelow(True)


def label(x, y, s, rot=0):
    fig.text(x / W, 1 - y / H, s, rotation=rot, ha='center', va='center',
             fontsize=FS, color=INK, multialignment='center', linespacing=1.15)


# panel 1
ax1 = fig.add_axes(box(130, 19, 999, 323.3))
t, v = zip(*ru_points)
ax1.plot(t, v, color=INK, lw=1.6, zorder=3)
ax1.set_xlim(0, 20)
ax1.set_ylim(0, 1.2)
ax1.set_xticks(cycle_ticks, cycle_labels)
ax1.set_yticks(ru_ticks, ru_labels)
style(ax1, 12, 8)
label(18, 195, 'ru', 90)
label(514, 393, 'Çevrim Sayısı')

# panel 2
ax2 = fig.add_axes(box(133, 472.3, 1022.7, 790))
t, v = zip(*csr_points)
ax2.plot(t, v, color=INK, lw=1.6, zorder=3)
ax2.set_xlim(0, 20)
ax2.set_ylim(-0.4, 0.4)
ax2.set_xticks(cycle_ticks, cycle_labels)
ax2.set_yticks(csr_ticks, csr_labels)
style(ax2, 13, 8)
ax2.spines['bottom'].set_position(('data', 0))
label(32, 660, 'CSR', 90)
label(521, 827, 'Çevrim Sayısı')

# panel 3
ax3 = fig.add_axes(box(142.1, 916, 1015.7, 1242.3))
t, v = zip(*strain_points)
ax3.plot(t, v, color=INK, lw=1.6, zorder=3)
ax3.set_xlim(0, 20)
ax3.set_ylim(-10, 20)
ax3.set_xticks(cycle_ticks, cycle_labels)
ax3.set_yticks(strain_ticks, strain_labels)
style(ax3, 11, 8)
ax3.spines['bottom'].set_position(('data', 0))
label(61, 1098, '%Eksenel Deformasyon\nGenliği', 90)
label(527, 1282, 'Çevrim Sayısı')

# panel 4
ax4 = fig.add_axes(box(95.7, 1345.7, 962.7, 1655))
x, q = zip(*hyst_points)
ax4.plot(x, q, color=INK, lw=1.5, zorder=3)
ax4.set_xlim(-10, 20)
ax4.set_ylim(-80, 80)
ax4.set_xticks(mm_ticks, mm_labels)
ax4.set_yticks(q_ticks, q_labels)
style(ax4, 13, 9)
ax4.spines['bottom'].set_position(('data', 0))
ax4.spines['left'].set_position(('data', 0))
label(30, 1566, 'Deviatör Gerilme,kPa', 90)
label(515, 1703, 'Boy Kısalması,mm')

fig.savefig('out.png', dpi=100)
